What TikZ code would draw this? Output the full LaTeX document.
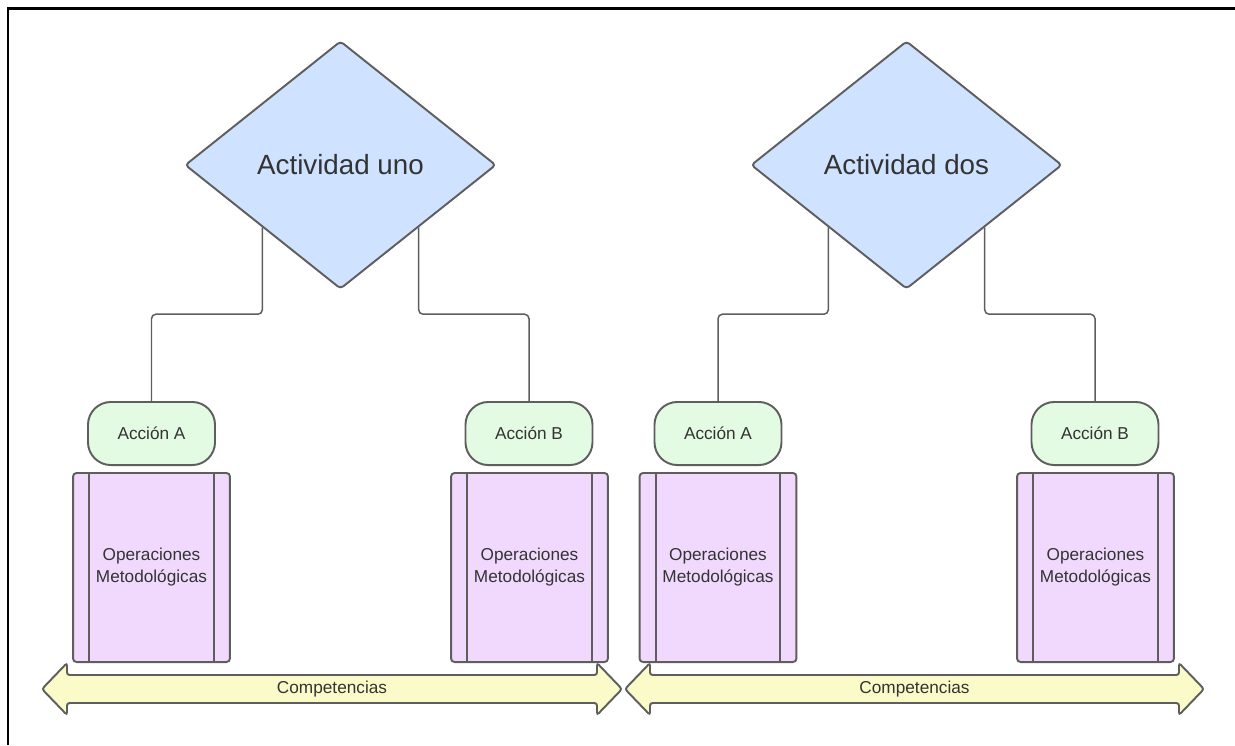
\documentclass[tikz,border=0pt]{standalone}
\usepackage{fontspec}
\setmainfont{Liberation Sans}
\usetikzlibrary{shapes.geometric,calc}
\definecolor{edgegray}{HTML}{5E5E5E}
\definecolor{txtgray}{HTML}{333333}
\definecolor{actblue}{HTML}{CFE2FF}
\definecolor{accgreen}{HTML}{E3FAE3}
\definecolor{opviolet}{HTML}{F1D9FE}
\definecolor{compyellow}{HTML}{FBFBC9}
\tikzset{
  activity/.style={shape=diamond, draw=edgegray, fill=actblue, line width=1.1pt,
    rounded corners=2pt, inner sep=0pt, minimum width=177pt, minimum height=141.1pt,
    text=txtgray, font=\fontsize{15.8}{19}\selectfont},
  action/.style={rectangle, draw=edgegray, fill=accgreen, line width=1.1pt,
    rounded corners=13pt, minimum width=72.3pt, minimum height=35.9pt, inner sep=0pt,
    text=txtgray, font=\fontsize{9.8}{12.5}\selectfont},
  opbox/.style={rectangle, draw=edgegray, fill=opviolet, line width=1.1pt,
    rounded corners=2pt, minimum width=89.3pt, minimum height=107.6pt, inner sep=0pt,
    align=center, text=txtgray, font=\fontsize{9.8}{12.5}\selectfont,
    path picture={
      \draw[edgegray, line width=1.1pt]
        ([xshift=9.1pt]path picture bounding box.north west) --
        ([xshift=9.1pt]path picture bounding box.south west)
        ([xshift=-9.1pt]path picture bounding box.north east) --
        ([xshift=-9.1pt]path picture bounding box.south east);}},
  band/.style={draw=edgegray, fill=compyellow, line width=1.1pt, rounded corners=1.5pt},
  bandlabel/.style={text=txtgray, font=\fontsize{9.8}{12.5}\selectfont, inner sep=0pt},
  conn/.style={draw=edgegray, line width=0.85pt, rounded corners=2.5pt},
}
\begin{document}
\begin{tikzpicture}[x=0.02cm, y=-0.02cm]
  \useasboundingbox (0,0) rectangle (1235,745);
  % outer frame (open on the right and at the bottom)
  \draw[black, line width=1.7pt] (8,745) -- (8,8) -- (1235,8);

  % activities
  \node[activity] (d1) at (340.5,165) {Actividad uno};
  \node[activity] (d2) at (906.5,165) {Actividad dos};

  % actions
  \node[action] (a1) at (151.5,433.5) {Acción A};
  \node[action] (b1) at (529,433.5)   {Acción B};
  \node[action] (a2) at (718,433.5)   {Acción A};
  \node[action] (b2) at (1095,433.5)  {Acción B};

  % methodological operations
  \node[opbox] (o1) at (151.5,567.5) {Operaciones\\Metodológicas};
  \node[opbox] (o2) at (529.5,567.5) {Operaciones\\Metodológicas};
  \node[opbox] (o3) at (718,567.5)   {Operaciones\\Metodológicas};
  \node[opbox] (o4) at (1095.5,567.5) {Operaciones\\Metodológicas};

  % elbow connectors from each activity to its actions
  \coordinate (m1) at ($(d1.south west)!.5!(a1.north)$);
  \coordinate (m2) at ($(d1.south east)!.5!(b1.north)$);
  \coordinate (m3) at ($(d2.south west)!.5!(a2.north)$);
  \coordinate (m4) at ($(d2.south east)!.5!(b2.north)$);
  \draw[conn] (d1.south west) |- (m1) -| (a1.north);
  \draw[conn] (d1.south east) |- (m2) -| (b1.north);
  \draw[conn] (d2.south west) |- (m3) -| (a2.north);
  \draw[conn] (d2.south east) |- (m4) -| (b2.north);

  % competence bands (double-headed arrows)
  \draw[band] (42,689) -- (67,663) -- (67,675) -- (597,675) -- (597,663) -- (622,689)
    -- (597,715) -- (597,703) -- (67,703) -- (67,715) -- cycle;
  \node[bandlabel] (c1) at (332,689) {Competencias};
  \draw[band] (625,689) -- (650,663) -- (650,675) -- (1179,675) -- (1179,663) -- (1204,689)
    -- (1179,715) -- (1179,703) -- (650,703) -- (650,715) -- cycle;
  \node[bandlabel] (c2) at (914.5,689) {Competencias};
\end{tikzpicture}
\end{document}
